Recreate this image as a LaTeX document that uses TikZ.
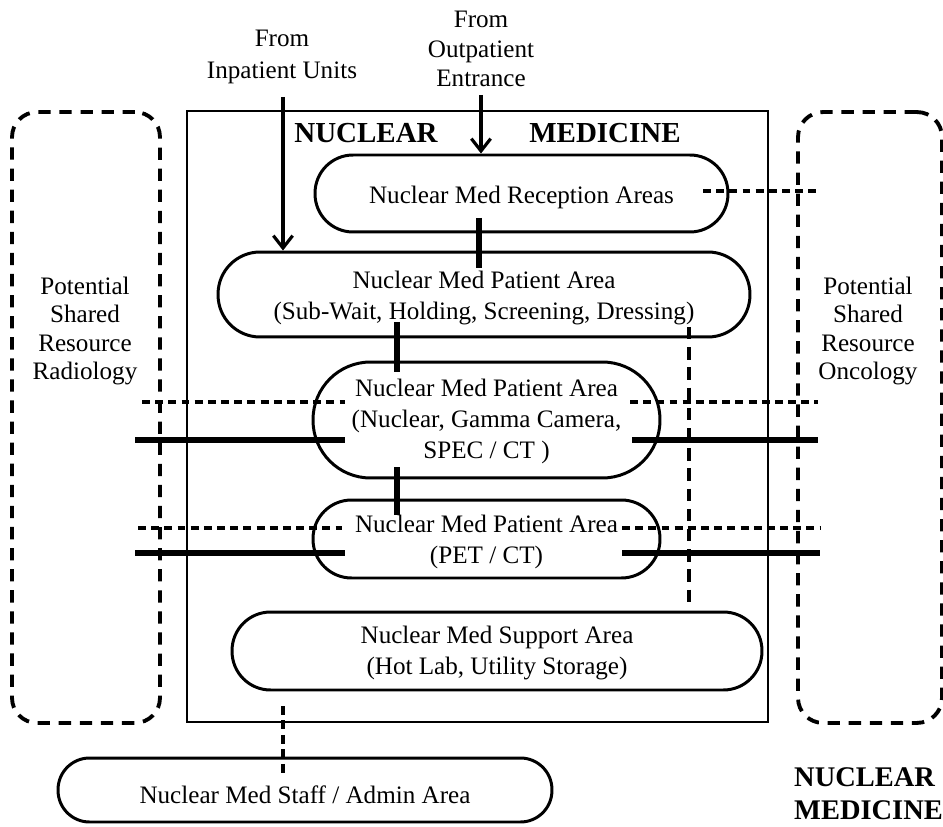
\documentclass[tikz,border=0pt]{standalone}
\usepackage{fontspec}
\setmainfont{Liberation Serif}
\usetikzlibrary{arrows.meta}
\begin{document}
\begin{tikzpicture}[x=0.02cm,y=-0.02cm,
  every node/.style={font=\fontsize{14.3}{17.6}\selectfont},
  pill/.style={draw, line width=1.7pt, fill=white, inner sep=0pt},
  areatext/.style={align=center, inner sep=0pt},
  sharedbox/.style={draw, line width=2.2pt, dash pattern=on 7pt off 5pt, rounded corners=0.5cm, inner sep=0pt},
  hardlink/.style={line width=2.9pt},
  softlink/.style={line width=2.2pt, dash pattern=on 4.5pt off 3pt},
  stafflink/.style={line width=2.2pt, dash pattern=on 5pt off 3.25pt},
  longlink/.style={line width=2.2pt, dash pattern=on 7pt off 4.5pt},
  flow/.style={line width=1.8pt, -{Straight Barb[length=7pt,width=11pt]}},
  title/.style={font=\fontsize{16.5}{19}\selectfont\bfseries}
]
\useasboundingbox (0,0) rectangle (943,827);

% department outline and shared-resource zones
\node[draw, line width=1.2pt, minimum width=11.62cm, minimum height=12.22cm, inner sep=0pt] (dept) at (477.5,416.5) {};
\node[sharedbox, minimum width=2.96cm, minimum height=12.22cm] (radl) at (86,417.5) {};
\node[sharedbox, minimum width=2.88cm, minimum height=12.22cm] (onco) at (870,417.5) {};
\node[align=center, font=\fontsize{14.3}{16}\selectfont] (radlt) at (85,331) {Potential\\Shared\\Resource\\Radiology};
\node[align=center, font=\fontsize{14.3}{16}\selectfont] (oncot) at (868,331) {Potential\\Shared\\Resource\\Oncology};

% titles
\node[title] (t1) at (366,133) {NUCLEAR};
\node[title] (t2) at (605,133) {MEDICINE};
\node[title, align=left, anchor=west, font=\fontsize{16.2}{19}\selectfont\bfseries] (t3) at (788,794) {NUCLEAR\\MEDICINE};

% entrances
\node[align=center, font=\fontsize{14.3}{18}\selectfont] (inpt) at (282,57) {From\\Inpatient Units};
\node[align=center, font=\fontsize{14.3}{17}\selectfont] (outpt) at (481,49) {From\\Outpatient\\Entrance};

% functional areas
\node[pill, rounded corners=0.76cm, minimum width=8.26cm, minimum height=1.54cm] (rec) at (521.5,193.5) {};
\node[pill, rounded corners=0.84cm, minimum width=10.64cm, minimum height=1.70cm] (p1) at (484,294.5) {};
\node[pill, rounded corners=1.15cm, minimum width=6.94cm, minimum height=2.32cm] (p2) at (486.5,420) {};
\node[pill, rounded corners=0.77cm, minimum width=6.94cm, minimum height=1.56cm] (p3) at (486.5,539) {};
\node[pill, rounded corners=0.77cm, minimum width=10.6cm, minimum height=1.56cm] (sup) at (497,651) {};
\node[pill, rounded corners=0.63cm, minimum width=9.88cm, minimum height=1.28cm] (staff) at (305,790) {};

\node[areatext] (rect) at ([yshift=-2.4pt]rec.center) {Nuclear Med Reception Areas};
\node[areatext] (p1t) at ([yshift=-2.0pt]p1.center) {Nuclear Med Patient Area\\(Sub-Wait, Holding, Screening, Dressing)};
\node[areatext] (p2t) at ([yshift=-0.6pt]p2.center) {Nuclear Med Patient Area\\(Nuclear, Gamma Camera,\\SPEC / CT )};
\node[areatext] (p3t) at ([yshift=-1.6pt]p3.center) {Nuclear Med Patient Area\\(PET / CT)};
\node[areatext] (supt) at ([yshift=-1.2pt]sup.center) {Nuclear Med Support Area\\(Hot Lab, Utility Storage)};
\node[areatext] (stafft) at ([yshift=-2.6pt]staff.center) {Nuclear Med Staff / Admin Area};

% connector end points
\coordinate (inA) at (283,97);
\coordinate (outA) at (481,95);
\coordinate (recA) at (703,191);
\coordinate (recB) at (817,191);
\coordinate (v1a) at (479,218);
\coordinate (v1b) at (479,268);
\coordinate (v2a) at (397,322);
\coordinate (v2b) at (397,372);
\coordinate (v3a) at (397,467);
\coordinate (v3b) at (397,515);
\coordinate (vsa) at (689,327);
\coordinate (vsb) at (689,607);
\coordinate (sta) at (283,706);
\coordinate (stb) at (283,773);
\coordinate (a1) at (142,402);  \coordinate (a2) at (345,402);
\coordinate (b1) at (135,440);  \coordinate (b2) at (345,440);
\coordinate (a3) at (630,402);  \coordinate (a4) at (818,402);
\coordinate (b3) at (632,440);  \coordinate (b4) at (818,440);
\coordinate (c1) at (138,528);  \coordinate (c2) at (342,528);
\coordinate (d1) at (135,553);  \coordinate (d2) at (345,553);
\coordinate (c3) at (622,528);  \coordinate (c4) at (820,528);
\coordinate (d3) at (622,553);  \coordinate (d4) at (820,553);

% arrivals
\draw[flow] (inA) -- (inA |- p1.north);
\draw[flow] (outA) -- (outA |- rec.north);

% direct adjacencies
\draw[hardlink] (v1a) -- (v1b);
\draw[hardlink] (v2a) -- (v2b);
\draw[hardlink] (v3a) -- (v3b);
\draw[hardlink] (b1) -- (b2);
\draw[hardlink] (b3) -- (b4);
\draw[hardlink] (d1) -- (d2);
\draw[hardlink] (d3) -- (d4);

% convenient adjacencies
\draw[softlink] (recA) -- (recB);
\draw[longlink] (vsa) -- (vsb);
\draw[stafflink] (sta) -- (stb);
\draw[softlink] (a1) -- (a2);
\draw[softlink] (a3) -- (a4);
\draw[softlink] (c1) -- (c2);
\draw[softlink] (c3) -- (c4);
\end{tikzpicture}
\end{document}
